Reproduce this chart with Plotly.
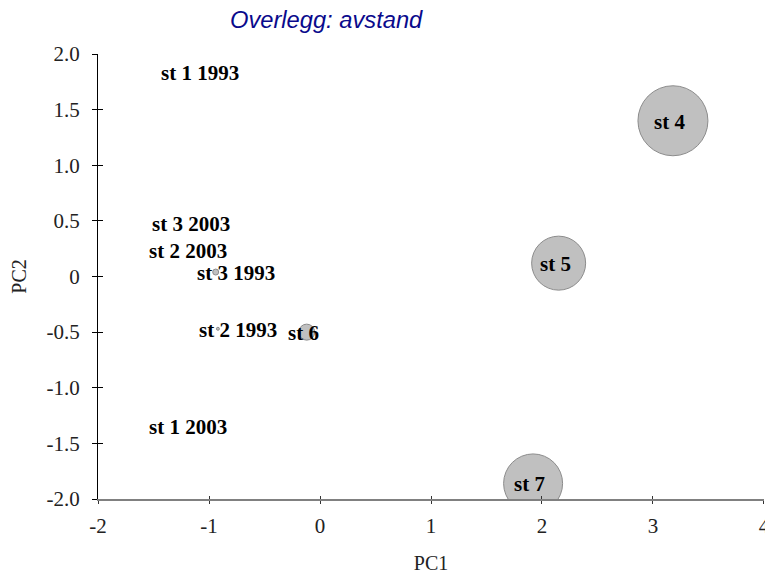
import plotly.graph_objects as go

# ---- data ----
labels = ["st 1 1993", "st 2 1993", "st 3 1993", "st 1 2003", "st 2 2003",
          "st 3 2003", "st 4", "st 5", "st 6", "st 7"]
pc1 = [-1.26, -0.92, -0.94, -1.37, -1.37, -1.34, 3.18, 2.15, -0.12, 1.92]
pc2 = [1.84, -0.47, 0.04, -1.34, 0.24, 0.48, 1.40, 0.12, -0.50, -1.86]
avstand = [0, 3, 6, 0, 0, 0, 70, 54, 16, 59]

x_tickvals = [-2, -1, 0, 1, 2, 3, 4]
x_ticktext = ["-2", "-1", "0", "1", "2", "3", "4"]
y_tickvals = [2.0, 1.5, 1.0, 0.5, 0.0, -0.5, -1.0, -1.5, -2.0]
y_ticktext = ["2.0", "1.5", "1.0", "0.5", "0", "-0.5", "-1.0", "-1.5", "-2.0"]

title_text = "Overlegg: avstand"
x_title = "PC1"
y_title = "PC2"

serif = "Liberation Serif, Times New Roman, serif"
x_range = [-2.0005, 4.0005]

fig = go.Figure()
fig.add_trace(go.Scatter(
    x=pc1, y=pc2, mode="markers",
    marker=dict(size=avstand, sizemode="diameter", sizeref=1, opacity=1,
                color="#c0c0c0", line=dict(color="#8c8c8c", width=1)),
    hoverinfo="text", text=labels, showlegend=False,
))
# invisible trace to bind overlay axes
fig.add_trace(go.Scatter(x=[pc1[0]], y=[pc2[0]], xaxis="x2", yaxis="y2",
                         mode="markers", marker=dict(opacity=0), showlegend=False,
                         hoverinfo="skip"))

for lab, xv, yv in zip(labels, pc1, pc2):
    fig.add_annotation(x=xv, y=yv, text="<b>" + lab + "</b>", showarrow=False,
                       xanchor="left", yanchor="middle", xshift=-21, yshift=-1,
                       font=dict(family=serif, size=21, color="black"))

axis_common = dict(range=x_range, tickvals=x_tickvals, ticktext=x_ticktext,
                   showgrid=False, zeroline=False, automargin=False)
fig.update_layout(
    width=765, height=574,
    margin=dict(l=98, r=1, t=54, b=75),
    paper_bgcolor="white", plot_bgcolor="white",
    title=dict(text="<i>" + title_text + "</i>", x=230 / 765, xanchor="left",
               xref="container",
               y=1 - 20 / 574, yanchor="middle",
               font=dict(family="Liberation Sans, Arial, sans-serif", size=23.7,
                         color="#0a0a8c")),
    xaxis=dict(**axis_common, showline=True, linecolor="#808080", linewidth=2,
               ticks="outside", ticklen=3, tickcolor="#333333", tickwidth=1,
               ticklabelstandoff=4, ticklabeloverflow="allow",
               tickfont=dict(family=serif, size=21, color="#222222"),
               title=dict(text=x_title, font=dict(family=serif, size=20, color="#222222"),
                          standoff=22)),
    xaxis2=dict(**axis_common, overlaying="x", anchor="y2",
                ticks="inside", ticklen=3, tickcolor="#333333", tickwidth=1,
                showticklabels=False, side="bottom"),
    yaxis=dict(range=[-2, 2], tickvals=y_tickvals, ticktext=y_ticktext,
               showgrid=False, zeroline=False, showline=True, linecolor="black",
               linewidth=1, ticks="outside", ticklen=5, tickcolor="black",
               ticklabelstandoff=8, automargin=False,
               tickfont=dict(family=serif, size=21, color="#222222"),
               title=dict(text=y_title, font=dict(family=serif, size=20, color="#222222"),
                          standoff=14)),
    yaxis2=dict(range=[-2, 2], tickvals=y_tickvals, overlaying="y", anchor="x2",
                showgrid=False, zeroline=False, ticks="inside", ticklen=5,
                automargin=False,
                tickcolor="black", showticklabels=False, side="left"),
)

fig.write_html("out.html")
